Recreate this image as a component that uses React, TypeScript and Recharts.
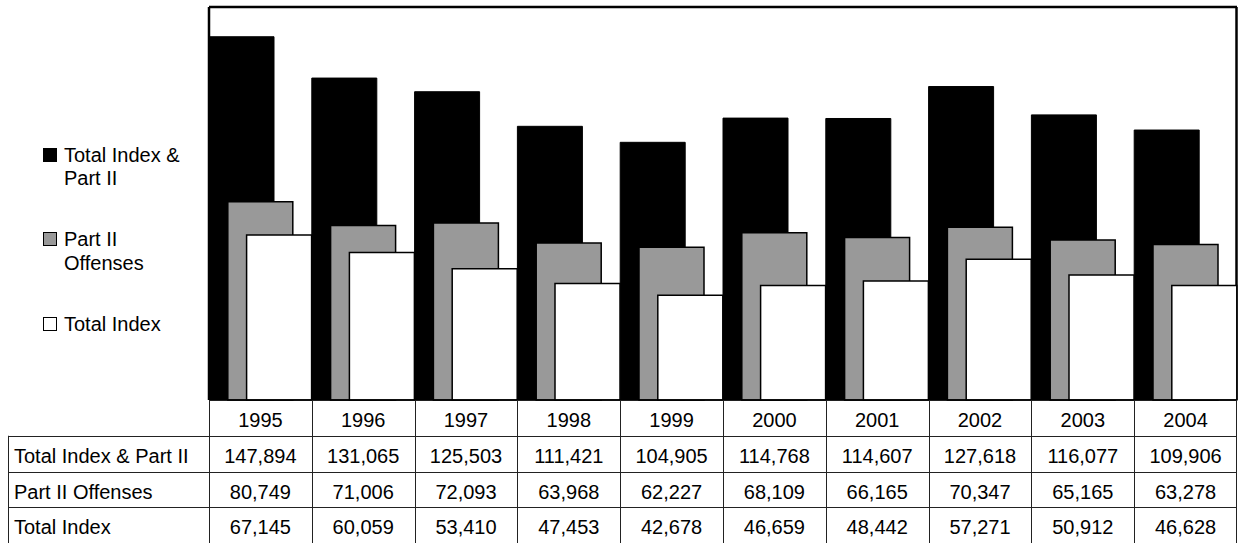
import React from 'react'
import { BarChart, Bar, XAxis, YAxis, CartesianGrid } from 'recharts'

const years = ['1995', '1996', '1997', '1998', '1999', '2000', '2001', '2002', '2003', '2004']
const totalIndexAndPartII = [147894, 131065, 125503, 111421, 104905, 114768, 114607, 127618, 116077, 109906]
const partIIOffenses = [80749, 71006, 72093, 63968, 62227, 68109, 66165, 70347, 65165, 63278]
const totalIndex = [67145, 60059, 53410, 47453, 42678, 46659, 48442, 57271, 50912, 46628]

const rowLabels = ['Total Index & Part II', 'Part II Offenses', 'Total Index']
const legendLines = [['Total Index &', 'Part II'], ['Part II', 'Offenses'], ['Total Index']]
const seriesFills = ['#000000', '#999999', '#ffffff']

const WIDTH = 1239
const HEIGHT = 543
const PLOT_LEFT = 209
const PLOT_RIGHT = 1237
const PLOT_TOP = 7
const PLOT_BOTTOM = 400
const ROW_H = 35.75
const FONT = '"Liberation Sans", Arial, sans-serif'

const data = years.map((year, i) => ({
  year,
  all: totalIndexAndPartII[i],
  partII: partIIOffenses[i],
  index: totalIndex[i],
}))

const tableRows = [totalIndexAndPartII, partIIOffenses, totalIndex]

// draws one column of the data table under each year
function TableTick(props: any) {
  const { x, y, index, payload } = props
  const cellW = (PLOT_RIGHT - PLOT_LEFT) / years.length
  const left = Math.round(x - cellW / 2) + 0.5
  const right = Math.round(x + cellW / 2) - 0.5
  const texts = [String(payload.value), ...tableRows.map((r) => r[index].toLocaleString('en-US'))]

  return (
    <g>
      <line x1={left} x2={left} y1={y} y2={y + 4 * ROW_H} stroke="#222" strokeWidth={1} />
      {index === years.length - 1 && (
        <line x1={right} x2={right} y1={y} y2={y + 4 * ROW_H} stroke="#222" strokeWidth={1} />
      )}
      {[1, 2, 3, 4].map((i) => (
        <line
          key={i}
          x1={left}
          x2={right + 0.5}
          y1={Math.round(y + i * ROW_H) + 0.5}
          y2={Math.round(y + i * ROW_H) + 0.5}
          stroke="#222"
          strokeWidth={1}
        />
      ))}
      {texts.map((t, i) => (
        <text
          key={i}
          x={x}
          y={y + i * ROW_H + 27}
          textAnchor="middle"
          fontFamily={FONT}
          fontSize={20}
          fill="#000"
        >
          {t}
        </text>
      ))}
      {index === 0 && (
        <g>
          <line x1={8.5} x2={8.5} y1={y + ROW_H} y2={y + 4 * ROW_H} stroke="#222" strokeWidth={1} />
          {[1, 2, 3, 4].map((i) => (
            <line
              key={i}
              x1={8}
              x2={left}
              y1={Math.round(y + i * ROW_H) + 0.5}
              y2={Math.round(y + i * ROW_H) + 0.5}
              stroke="#222"
              strokeWidth={1}
            />
          ))}
          {rowLabels.map((label, i) => (
            <text
              key={label}
              x={14}
              y={y + (i + 1) * ROW_H + 27}
              fontFamily={FONT}
              fontSize={20}
              fill="#000"
            >
              {label}
            </text>
          ))}
        </g>
      )}
    </g>
  )
}

function SideLegend() {
  const tops = [143.5, 228, 313]
  return (
    <div style={{ position: 'absolute', left: 0, top: 0, fontFamily: FONT, fontSize: 20, lineHeight: '23.5px' }}>
      {legendLines.map((lines, i) => (
        <div key={i} style={{ position: 'absolute', left: 43, top: tops[i], width: 160 }}>
          <div
            style={{
              position: 'absolute',
              left: 0,
              top: 4,
              width: 12,
              height: 12,
              background: seriesFills[i],
              border: '1.5px solid #000',
            }}
          />
          <div style={{ position: 'absolute', left: 21, top: 0, whiteSpace: 'nowrap' }}>
            {lines.map((l) => (
              <div key={l}>{l}</div>
            ))}
          </div>
        </div>
      ))}
    </div>
  )
}

export default function App() {
  return (
    <div style={{ position: 'relative', width: WIDTH, height: HEIGHT, background: '#fff' }}>
      <style>{'body{margin:0}'}</style>
      <BarChart
        width={WIDTH}
        height={HEIGHT}
        data={data}
        margin={{ top: PLOT_TOP, right: WIDTH - PLOT_RIGHT, left: PLOT_LEFT, bottom: 0 }}
        barCategoryGap={0}
        barGap={-46.2}
        barSize={65}
      >
        <CartesianGrid
          horizontalPoints={[PLOT_TOP]}
          verticalPoints={[PLOT_LEFT, PLOT_RIGHT - 0.5]}
          stroke="#000"
          strokeWidth={2.5}
        />
        <XAxis
          dataKey="year"
          height={HEIGHT - PLOT_BOTTOM}
          interval={0}
          tickLine={false}
          tickSize={0}
          tickMargin={0}
          axisLine={{ stroke: '#000', strokeWidth: 1.5 }}
          tick={<TableTick />}
        />
        <YAxis hide domain={[0, 160000]} />
        <Bar dataKey="all" name="Total Index & Part II" fill={seriesFills[0]} stroke="#000" strokeWidth={1} isAnimationActive={false} />
        <Bar dataKey="partII" name="Part II Offenses" fill={seriesFills[1]} stroke="#000" strokeWidth={1.5} isAnimationActive={false} />
        <Bar dataKey="index" name="Total Index" fill={seriesFills[2]} stroke="#000" strokeWidth={1.5} isAnimationActive={false} />
      </BarChart>
      <SideLegend />
    </div>
  )
}
